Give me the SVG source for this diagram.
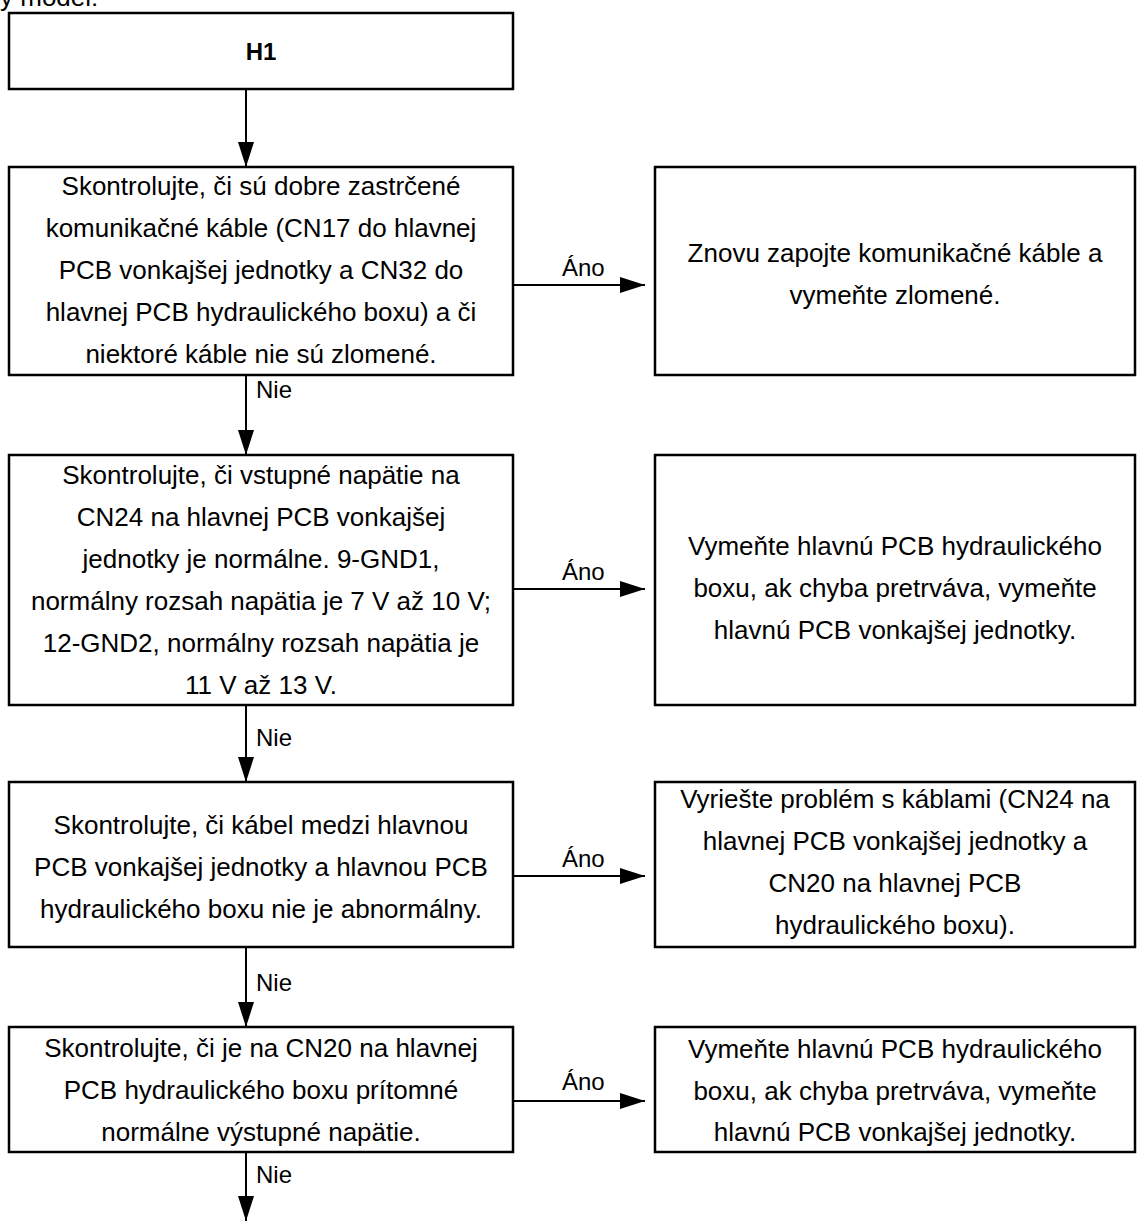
<svg xmlns="http://www.w3.org/2000/svg" width="1137" height="1221" viewBox="0 0 1137 1221">
<style>
  .box { fill: #ffffff; stroke: #000000; stroke-width: 2.5; }
  .t { font-family: "Liberation Sans", Arial, sans-serif; font-size: 26px; fill: #000000; text-anchor: middle; }
  .lbl { font-family: "Liberation Sans", Arial, sans-serif; font-size: 24px; fill: #000000; }
  .conn { stroke: #000000; stroke-width: 2; fill: none; marker-end: url(#arr); }
</style>
<defs>
  <marker id="arr" markerUnits="userSpaceOnUse" markerWidth="25" markerHeight="16" refX="25" refY="8" orient="auto">
    <path d="M0,0 L25,8 L0,16 z" fill="#000000"/>
  </marker>
</defs>
<rect width="1137" height="1221" fill="#ffffff"/>
<text class="lbl" x="0" y="6" style="font-size:26px">y model:</text>

<g id="connectors">
  <line class="conn" x1="246" y1="89" x2="246" y2="167"/>
  <line class="conn" x1="246" y1="375" x2="246" y2="455"/>
  <line class="conn" x1="246" y1="705" x2="246" y2="782"/>
  <line class="conn" x1="246" y1="947" x2="246" y2="1027"/>
  <line class="conn" x1="246" y1="1152" x2="246" y2="1221"/>
  <line class="conn" x1="513" y1="285" x2="645" y2="285"/>
  <line class="conn" x1="513" y1="589" x2="645" y2="589"/>
  <line class="conn" x1="513" y1="876" x2="645" y2="876"/>
  <line class="conn" x1="513" y1="1101" x2="645" y2="1101"/>
  <text class="lbl" x="256" y="398">Nie</text>
  <text class="lbl" x="256" y="746">Nie</text>
  <text class="lbl" x="256" y="991">Nie</text>
  <text class="lbl" x="256" y="1183">Nie</text>
  <text class="lbl" x="562" y="276">Áno</text>
  <text class="lbl" x="562" y="580">Áno</text>
  <text class="lbl" x="562" y="867">Áno</text>
  <text class="lbl" x="562" y="1090">Áno</text>
</g>

<g id="h1">
  <rect class="box" x="9" y="13" width="504" height="76"/>
  <text class="t" x="261" y="60" style="font-weight:bold;font-size:24px">H1</text>
</g>

<g id="check1">
  <rect class="box" x="9" y="167" width="504" height="208"/>
  <text class="t" x="261" y="195">Skontrolujte, či sú dobre zastrčené</text>
  <text class="t" x="261" y="237">komunikačné káble (CN17 do hlavnej</text>
  <text class="t" x="261" y="279">PCB vonkajšej jednotky a CN32 do</text>
  <text class="t" x="261" y="321">hlavnej PCB hydraulického boxu) a či</text>
  <text class="t" x="261" y="363">niektoré káble nie sú zlomené.</text>
</g>

<g id="fix1">
  <rect class="box" x="655" y="167" width="480" height="208"/>
  <text class="t" x="895" y="262">Znovu zapojte komunikačné káble a</text>
  <text class="t" x="895" y="304">vymeňte zlomené.</text>
</g>

<g id="check2">
  <rect class="box" x="9" y="455" width="504" height="250"/>
  <text class="t" x="261" y="484">Skontrolujte, či vstupné napätie na</text>
  <text class="t" x="261" y="526">CN24 na hlavnej PCB vonkajšej</text>
  <text class="t" x="261" y="568">jednotky je normálne. 9-GND1,</text>
  <text class="t" x="261" y="610">normálny rozsah napätia je 7 V až 10 V;</text>
  <text class="t" x="261" y="652">12-GND2, normálny rozsah napätia je</text>
  <text class="t" x="261" y="694">11 V až 13 V.</text>
</g>

<g id="fix2">
  <rect class="box" x="655" y="455" width="480" height="250"/>
  <text class="t" x="895" y="555">Vymeňte hlavnú PCB hydraulického</text>
  <text class="t" x="895" y="597">boxu, ak chyba pretrváva, vymeňte</text>
  <text class="t" x="895" y="639">hlavnú PCB vonkajšej jednotky.</text>
</g>

<g id="check3">
  <rect class="box" x="9" y="782" width="504" height="165"/>
  <text class="t" x="261" y="834">Skontrolujte, či kábel medzi hlavnou</text>
  <text class="t" x="261" y="876">PCB vonkajšej jednotky a hlavnou PCB</text>
  <text class="t" x="261" y="918">hydraulického boxu nie je abnormálny.</text>
</g>

<g id="fix3">
  <rect class="box" x="655" y="782" width="480" height="165"/>
  <text class="t" x="895" y="808">Vyriešte problém s káblami (CN24 na</text>
  <text class="t" x="895" y="850">hlavnej PCB vonkajšej jednotky a</text>
  <text class="t" x="895" y="892">CN20 na hlavnej PCB</text>
  <text class="t" x="895" y="934">hydraulického boxu).</text>
</g>

<g id="check4">
  <rect class="box" x="9" y="1027" width="504" height="125"/>
  <text class="t" x="261" y="1057">Skontrolujte, či je na CN20 na hlavnej</text>
  <text class="t" x="261" y="1099">PCB hydraulického boxu prítomné</text>
  <text class="t" x="261" y="1141">normálne výstupné napätie.</text>
</g>

<g id="fix4">
  <rect class="box" x="655" y="1027" width="480" height="125"/>
  <text class="t" x="895" y="1058">Vymeňte hlavnú PCB hydraulického</text>
  <text class="t" x="895" y="1100">boxu, ak chyba pretrváva, vymeňte</text>
  <text class="t" x="895" y="1141">hlavnú PCB vonkajšej jednotky.</text>
</g>
</svg>
